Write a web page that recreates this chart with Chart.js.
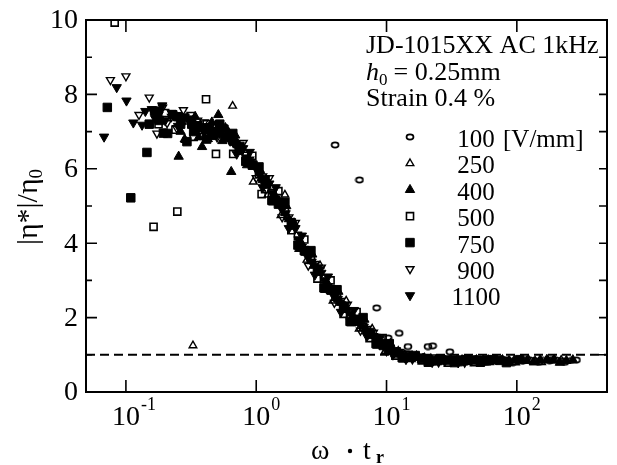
<!DOCTYPE html>
<html>
<head>
<meta charset="utf-8">
<script src="https://cdn.jsdelivr.net/npm/chart.js@4.4.0/dist/chart.umd.min.js"></script>
<style>
  html, body { margin: 0; padding: 0; background: #fff; }
  canvas { display: block; }
</style>
</head>
<body>
<canvas id="myChart" width="617" height="465"></canvas>
<script>
// values (x = omega * t_r, y = |eta*| / eta_0)
const fields = ['100', '250', '400', '500', '750', '900', '1100'];

const x100 = [4.03, 6.2, 8.4, 10.3, 10.9, 12.5, 12.6, 14.6, 15.8, 20, 20.8, 22.6, 25.1, 30.6, 31.6, 39.8, 50.1, 52, 56.2, 63.1, 70.8, 79.4, 89.1, 100, 112, 126, 141, 158, 178, 200, 224, 263, 287,
  18.6, 23.4, 29.5, 37.2, 46.8, 58.9, 74.1, 93.3, 117, 148, 186, 234];
const y100 = [6.64, 5.7, 2.26, 1.45, 1.13, 1.58, 1.05, 1.22, 0.95, 0.88, 1.22, 1.24, 0.86, 1.08, 0.84, 0.87, 0.85, 0.89, 0.83, 0.86, 0.84, 0.86, 0.83, 0.85, 0.84, 0.86, 0.83, 0.85, 0.84, 0.86, 0.84, 0.85, 0.86,
  0.88, 0.8, 0.87, 0.79, 0.87, 0.8, 0.87, 0.79, 0.87, 0.8, 0.87, 0.8];

const x250 = [0.282, 0.285, 0.327, 0.38, 0.479, 0.659, 0.692, 0.871, 0.95, 1.1, 1.38, 1.66, 1.74, 2.19, 2.75, 3.47, 4.37, 5.5, 6.92, 8.71, 11, 13.8, 17.4, 21.9, 27.5, 34.7, 43.7, 55, 69.2, 87.1, 110, 138, 174, 219,
  0.427, 0.6, 1.23, 1.55, 1.95, 2.45, 3.09, 3.89, 4.9, 6.17, 7.76, 9.77, 12.3, 15.5, 19.5, 24.5, 30.9, 38.9, 49, 61.7, 77.6, 97.7, 123, 155, 195];
const y250 = [6.8, 6.77, 1.25, 7.0, 7.1, 7.69, 6.7, 6.3, 5.65, 5.75, 5.3, 5.3, 4.7, 4.05, 3.4, 2.95, 2.45, 2.0, 1.7, 1.35, 1.15, 1.0, 0.93, 0.9, 0.87, 0.85, 0.83, 0.86, 0.84, 0.85, 0.86, 0.84, 0.85, 0.86,
  6.8, 7.05, 5.3, 4.75, 4.55, 3.55, 3.4, 2.45, 2.45, 1.7, 1.7, 1.1, 1.1, 0.88, 0.92, 0.8, 0.87, 0.79, 0.87, 0.8, 0.87, 0.79, 0.87, 0.8, 0.87];

const x400 = [0.254, 0.263, 0.331, 0.384, 0.417, 0.512, 0.603, 0.643, 0.759, 0.955, 1.2, 1.51, 1.91, 2.4, 3.02, 3.8, 4.79, 6.03, 7.59, 9.55, 12, 15.1, 19.1, 24, 30.2, 38, 47.9, 60.3, 75.9, 95.5, 120, 151, 191, 240,
  0.29, 0.363, 0.457, 0.55, 0.69, 0.851, 1.07, 1.35, 1.7, 2.14, 2.69, 3.39, 4.27, 5.37, 6.76, 8.51, 10.7, 13.5, 17, 21.4, 26.9, 33.9, 42.7, 53.7, 67.6, 85.1, 107, 135, 170, 214, 269,
  0.34, 0.46, 0.58, 0.7, 0.891, 1.12, 1.41, 1.78, 2.24, 2.82, 3.55, 4.47, 5.62, 7.08, 8.91, 11.2];
const y400 = [6.33, 7.0, 7.2, 6.59, 7.05, 7.45, 6.95, 5.92, 6.55, 6.1, 5.55, 5.1, 4.45, 3.75, 3.25, 2.7, 2.3, 1.9, 1.55, 1.25, 1.05, 0.95, 0.9, 0.86, 0.83, 0.86, 0.84, 0.86, 0.84, 0.85, 0.84, 0.86, 0.85, 0.84,
  7.35, 6.85, 7.25, 6.75, 6.9, 6.1, 5.95, 5.1, 5.0, 3.85, 3.7, 2.75, 2.7, 1.85, 1.95, 1.25, 1.3, 0.88, 0.97, 0.8, 0.87, 0.79, 0.87, 0.8, 0.87, 0.79, 0.87, 0.8, 0.87, 0.79, 0.86,
  7.4, 7.0, 7.1, 6.75, 6.2, 5.7, 5.25, 4.65, 3.95, 3.4, 2.9, 2.4, 2.0, 1.65, 1.33, 1.1];

const x500 = [0.082, 0.163, 0.178, 0.24, 0.248, 0.331, 0.412, 0.417, 0.491, 0.525, 0.661, 0.666, 0.832, 1.05, 1.1, 1.32, 1.66, 2.09, 2.63, 3.31, 4.17, 5.25, 6.61, 8.32, 10.5, 13.2, 16.6, 20.9, 26.3, 33.1, 41.7, 52.5, 66.1, 83.2,
  0.2, 0.3, 0.355, 0.575, 0.933, 1.17, 1.48, 1.86, 2.34, 2.95, 3.72, 4.68, 5.89, 7.41, 9.33, 11.7, 14.8, 18.6, 23.4, 29.5, 37.2, 46.8, 58.9];
const y500 = [9.93, 4.44, 7.2, 7.05, 4.85, 6.86, 7.87, 7.2, 6.4, 7.0, 6.75, 6.4, 6.35, 5.85, 5.32, 5.35, 4.85, 4.2, 3.55, 3.05, 2.55, 2.05, 1.75, 1.45, 1.2, 1.0, 0.95, 0.88, 0.85, 0.87, 0.84, 0.85, 0.86, 0.84,
  7.5, 7.3, 7.15, 6.9, 6.35, 5.45, 5.4, 4.35, 4.1, 3.05, 3.0, 2.1, 2.15, 1.45, 1.45, 0.98, 1.0, 0.85, 0.9, 0.79, 0.87, 0.8, 0.87];

const x750 = [0.072, 0.109, 0.145, 0.166, 0.173, 0.194, 0.209, 0.263, 0.294, 0.372, 0.468, 0.589, 0.741, 0.933, 1.17, 1.48, 1.86, 2.34, 2.95, 3.72, 4.68, 5.89, 7.41, 9.33, 11.7, 14.8, 18.6, 23.4, 29.5, 37.2, 46.8, 58.9, 74.1,
  0.151, 0.229, 0.331, 0.417, 0.525, 0.661, 0.832, 1.05, 1.32, 1.66, 2.09, 2.63, 3.31, 4.17, 5.25, 6.61, 8.32, 10.5, 13.2, 16.6, 20.9, 26.3, 33.1, 41.7, 52.5, 66.1, 83.2, 105,
  0.18, 0.25, 0.32, 0.43, 0.52, 0.62, 0.75, 0.944, 1.19, 1.5, 1.88, 2.37, 2.99, 3.76, 4.73, 5.96, 7.5, 9.44, 11.9];
const y750 = [7.65, 5.22, 6.44, 7.55, 7.53, 6.96, 6.95, 7.2, 6.73, 7.1, 6.9, 6.85, 6.5, 6.1, 5.7, 5.05, 4.55, 3.8, 3.3, 2.75, 2.25, 1.95, 1.6, 1.3, 1.05, 0.95, 0.9, 0.85, 0.86, 0.84, 0.86, 0.84, 0.85,
  7.2, 7.45, 7.0, 6.8, 7.2, 6.95, 6.2, 6.05, 5.15, 5.1, 3.95, 3.8, 2.8, 2.75, 1.9, 2.0, 1.3, 1.3, 0.92, 0.98, 0.8, 0.87, 0.79, 0.87, 0.8, 0.87, 0.79, 0.87,
  7.3, 7.4, 7.2, 7.1, 6.95, 6.9, 6.6, 6.1, 5.6, 5.1, 4.5, 3.8, 3.25, 2.75, 2.3, 1.9, 1.55, 1.25, 1.08];

const x900 = [0.076, 0.1, 0.151, 0.173, 0.207, 0.224, 0.276, 0.282, 0.355, 0.447, 0.562, 0.708, 0.891, 1.12, 1.41, 1.78, 2.24, 2.82, 3.55, 4.47, 5.62, 7.08, 8.91, 11.2, 14.1, 17.8, 22.4, 28.2, 35.5, 44.7, 56.2,
  0.126, 0.191, 0.245, 0.316, 0.398, 0.501, 0.794, 1.0, 1.26, 1.58, 2.0, 2.51, 3.16, 3.98, 5.01, 6.31, 7.94, 10, 12.6, 15.8, 20, 25.1, 31.6, 39.8, 50.1];
const y900 = [8.39, 8.49, 7.92, 6.95, 7.23, 7.4, 7.58, 7.3, 7.3, 7.15, 6.95, 6.6, 6.25, 5.8, 5.2, 4.7, 3.9, 3.45, 2.85, 2.45, 1.95, 1.7, 1.3, 1.1, 0.97, 0.9, 0.87, 0.84, 0.86, 0.85, 0.84,
  7.45, 7.65, 7.1, 7.45, 7.25, 6.85, 6.7, 5.75, 5.75, 4.7, 4.55, 3.4, 3.35, 2.4, 2.35, 1.65, 1.6, 1.1, 1.08, 0.88, 0.92, 0.8, 0.87, 0.79, 0.86];

const x1100 = [0.068, 0.085, 0.101, 0.114, 0.133, 0.158, 0.178, 0.2, 0.251, 0.316, 0.398, 0.501, 0.631, 0.794, 1.0, 1.26, 1.58, 2.0, 2.51, 3.16, 3.98, 5.01, 6.31, 7.94, 10, 12.6, 15.8, 20, 25.1, 31.6, 39.8, 50.1,
  0.141, 0.168, 0.19, 0.224, 0.282, 0.355, 0.447, 0.562, 0.708, 0.891, 1.12, 1.41, 1.78, 2.24, 2.82, 3.55, 4.47, 5.62, 7.08, 8.91, 11.2, 14.1, 17.8, 22.4, 28.2, 35.5, 44.7,
  0.668, 0.841, 1.06, 1.33, 1.68, 2.11, 2.66, 3.35, 4.22, 5.31, 6.68, 8.41, 10.6];
const y1100 = [6.86, 8.19, 7.83, 7.24, 7.18, 7.6, 7.45, 7.3, 7.15, 7.35, 7.0, 7.05, 6.75, 6.55, 6.0, 5.6, 4.9, 4.4, 3.6, 3.2, 2.55, 2.2, 1.8, 1.5, 1.15, 1.0, 0.93, 0.88, 0.85, 0.86, 0.84, 0.85,
  7.55, 7.35, 7.7, 7.5, 7.4, 7.2, 6.9, 7.1, 6.4, 6.45, 5.5, 5.5, 4.4, 4.2, 3.15, 3.1, 2.15, 2.2, 1.5, 1.45, 1.0, 0.88, 0.95, 0.8, 0.87, 0.79, 0.86,
  6.7, 6.3, 5.85, 5.35, 4.8, 4.1, 3.5, 3.0, 2.5, 2.1, 1.75, 1.4, 1.15];

const xs = [x100, x250, x400, x500, x750, x900, x1100];
const ys = [y100, y250, y400, y500, y750, y900, y1100];

const xTicks = [0.1, 1, 10, 100];
const xTickExp = ['-1', '0', '1', '2'];
const yTicks = [0, 2, 4, 6, 8, 10];
const refLine = 1;

// marker look for each field strength (open ones are see-through)
const clear = 'rgba(0,0,0,0)';
const marks = [
  { shape: 'oval', order: 1 },
  { shape: 'triangle', rot: 0, fill: clear, r: 4.4, border: 1.4, order: 1 },
  { shape: 'triangle', rot: 0, fill: '#000', r: 5.4, border: 1, order: 0 },
  { shape: 'rect', fill: clear, r: 5, border: 1.6, order: 1 },
  { shape: 'rect', fill: '#000', r: 6, border: 1, order: 0 },
  { shape: 'triangle', rot: 180, fill: clear, r: 4.6, border: 1.4, order: 1 },
  { shape: 'triangle', rot: 180, fill: '#000', r: 5.4, border: 1, order: 0 }
];

function ovalMarker() {
  const c = document.createElement('canvas');
  c.width = 10; c.height = 8;
  const g = c.getContext('2d');
  g.lineWidth = 1.7;
  g.strokeStyle = '#000';
  g.beginPath();
  g.ellipse(5, 4, 3.5, 2.6, 0, 0, Math.PI * 2);
  g.stroke();
  return c;
}
const oval = ovalMarker();

const datasets = fields.map((f, i) => {
  const m = marks[i];
  const pts = xs[i].map((x, j) => ({ x: x, y: ys[i][j] }));
  if (m.shape === 'oval') {
    return { label: f, data: pts, order: m.order, pointStyle: oval, pointRadius: 4, showLine: false };
  }
  return {
    label: f,
    data: pts,
    order: m.order,
    showLine: false,
    pointStyle: m.shape,
    rotation: m.rot || 0,
    pointRadius: m.r,
    pointBackgroundColor: m.fill,
    pointBorderColor: '#000',
    pointBorderWidth: m.border
  };
});

function drawMark(ctx, m, x, y) {
  if (m.shape === 'oval') {
    ctx.drawImage(oval, x - oval.width / 2, y - oval.height / 2);
    return;
  }
  ctx.save();
  ctx.lineWidth = m.border;
  ctx.strokeStyle = '#000';
  ctx.fillStyle = m.fill;
  ctx.beginPath();
  if (m.shape === 'rect') {
    const h = m.r * Math.SQRT1_2;
    ctx.rect(x - h, y - h, 2 * h, 2 * h);
  } else {
    const d = m.rot ? -1 : 1;
    ctx.moveTo(x, y - d * m.r);
    ctx.lineTo(x + m.r * 0.866, y + d * m.r * 0.5);
    ctx.lineTo(x - m.r * 0.866, y + d * m.r * 0.5);
    ctx.closePath();
  }
  ctx.fill();
  ctx.stroke();
  ctx.restore();
}

const serif = '"Liberation Serif", "Times New Roman", serif';

const frame = {
  id: 'frame',
  beforeDatasetsDraw(chart) {
    // dashed reference line at |eta*|/eta0 = 1
    const { ctx, chartArea: a, scales: { y } } = chart;
    const yp = y.getPixelForValue(refLine);
    ctx.save();
    ctx.strokeStyle = '#000';
    ctx.lineWidth = 2;
    ctx.setLineDash([9, 5]);
    ctx.beginPath();
    ctx.moveTo(a.left, yp);
    ctx.lineTo(a.right, yp);
    ctx.stroke();
    ctx.restore();
  },
  afterDraw(chart) {
    const { ctx, chartArea: a, scales: { x, y } } = chart;
    ctx.save();
    ctx.strokeStyle = '#000';
    ctx.fillStyle = '#000';

    // box
    ctx.lineWidth = 2;
    ctx.strokeRect(a.left, a.top, a.right - a.left, a.bottom - a.top);

    // inward ticks
    ctx.lineWidth = 1.6;
    ctx.beginPath();
    for (let v = 0; v <= 10; v++) {
      const p = y.getPixelForValue(v);
      const len = v % 2 === 0 ? 11 : 6;
      ctx.moveTo(a.left, p); ctx.lineTo(a.left + len, p);
      ctx.moveTo(a.right, p); ctx.lineTo(a.right - 8, p);
    }
    xTicks.forEach(t => {
      const p = x.getPixelForValue(t);
      ctx.moveTo(p, a.bottom); ctx.lineTo(p, a.bottom - 12);
      ctx.moveTo(p, a.top); ctx.lineTo(p, a.top + 12);
    });
    ctx.stroke();

    // y tick labels
    ctx.font = '28px ' + serif;
    ctx.textAlign = 'right';
    ctx.textBaseline = 'middle';
    yTicks.forEach(v => ctx.fillText(String(v), 78, y.getPixelForValue(v) + 1));

    // x tick labels 10^n
    ctx.textBaseline = 'alphabetic';
    xTicks.forEach((t, i) => {
      const p = x.getPixelForValue(t);
      ctx.font = '28px ' + serif;
      ctx.textAlign = 'center';
      ctx.fillText('10', p, 425);
      const w = ctx.measureText('10').width;
      ctx.font = '18px ' + serif;
      ctx.textAlign = 'left';
      ctx.fillText(xTickExp[i], p + w / 2 + 1, 410);
    });

    // x title: omega . t_r
    ctx.font = '28px ' + serif;
    ctx.textAlign = 'left';
    ctx.fillText('\u03c9', 311, 459);
    ctx.beginPath();
    ctx.arc(350, 451, 2.2, 0, Math.PI * 2);
    ctx.fill();
    ctx.fillText('t', 363, 459);
    ctx.font = 'bold 18px ' + serif;
    ctx.fillText('r', 376, 463);

    // y title |eta*|/eta_0
    ctx.save();
    ctx.translate(37, 207);
    ctx.rotate(-Math.PI / 2);
    ctx.font = '30px ' + serif;
    const main = '|\u03b7*|/\u03b7';
    const mw = ctx.measureText(main).width;
    ctx.font = '19px ' + serif;
    const sw = ctx.measureText('0').width;
    const start = -(mw + sw) / 2;
    ctx.font = '30px ' + serif;
    ctx.fillText(main, start, 0);
    ctx.font = '19px ' + serif;
    ctx.fillText('0', start + mw, 5);
    ctx.restore();

    // notes
    ctx.font = '26px ' + serif;
    ctx.fillText('JD-1015XX AC 1kHz', 366, 53);
    ctx.font = 'italic 26px ' + serif;
    ctx.fillText('h', 366, 80);
    const hw = ctx.measureText('h').width;
    ctx.font = '17px ' + serif;
    ctx.fillText('0', 366 + hw, 85);
    ctx.font = '26px ' + serif;
    ctx.fillText(' = 0.25mm', 366 + hw + 8, 80);
    ctx.fillText('Strain 0.4 %', 366, 106);

    // legend
    ctx.font = '25px ' + serif;
    fields.forEach((f, i) => {
      const ry = 137 + i * 26.4;
      drawMark(ctx, marks[i], 410, ry);
      ctx.textAlign = 'center';
      ctx.fillText(f, 476, ry + 10);
    });
    ctx.textAlign = 'left';
    ctx.fillText('[V/mm]', 503, 147);

    ctx.restore();
  }
};

new Chart(document.getElementById('myChart'), {
  type: 'scatter',
  data: { datasets: datasets },
  options: {
    responsive: false,
    animation: false,
    events: [],
    layout: { padding: { left: 86, top: 20, right: 10, bottom: 73 } },
    scales: {
      x: { type: 'logarithmic', min: 0.0494, max: 492, display: false },
      y: { type: 'linear', min: 0, max: 10, display: false }
    },
    plugins: {
      legend: { display: false },
      tooltip: { enabled: false }
    }
  },
  plugins: [frame]
});
</script>
</body>
</html>
